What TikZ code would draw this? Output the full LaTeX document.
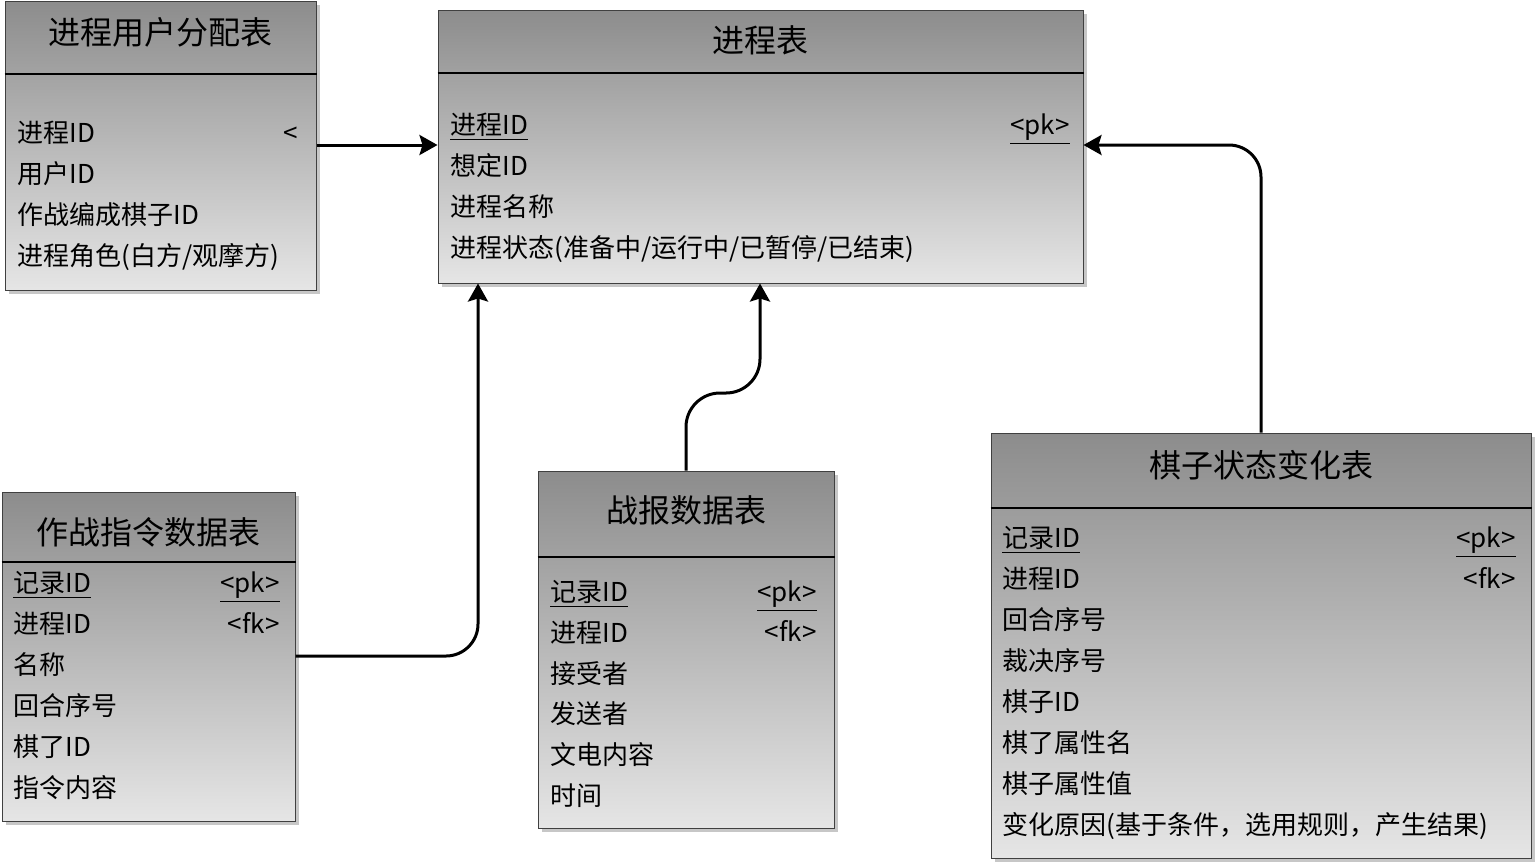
\documentclass[tikz,border=0pt]{standalone}
\usepackage{fontspec}
\setmainfont{Noto Sans CJK SC}
\usetikzlibrary{arrows.meta,fit,shadows}

\tikzset{
  tablebox/.style={draw=black!75, line width=0.5pt, top color=black!45, bottom color=black!10,
    inner sep=0pt, drop shadow={shadow xshift=2pt, shadow yshift=-2pt, fill=black!22, opacity=1}},
  headline/.style={line width=1.4pt},
  title/.style={font=\fontsize{16}{19}\selectfont, inner sep=0pt},
  field/.style={anchor=west, font=\fontsize{13}{15}\selectfont, inner sep=0pt, text height=11.5pt, text depth=2pt},
  key/.style={anchor=east, font=\fontsize{13}{15}\selectfont, inner sep=0pt, text height=11.5pt, text depth=2pt},
  link/.style={line width=1.5pt, -{Stealth[length=9pt,width=10pt,inset=1.5pt]}},
}

\begin{document}
\begin{tikzpicture}[x=0.5pt,y=-0.5pt]
	\useasboundingbox (0,0) rectangle (1536,864);
	% process user allocation table
	\node[tablebox, fit={(5,1) (316,290)}] (alloc) {};
	\draw[headline] (alloc.west |- 0,74) -- (alloc.east |- 0,74);
	\node[title] (alloc-title) at (alloc.north |- 0,32) {进程用户分配表};
	\foreach \f [count=\i from 0] in {进程ID, 用户ID, 作战编成棋子ID, 进程角色(白方/观摩方)}
		\node[field] (alloc-\i) at (17,{133+41*\i}) {\f};
	\node[key] (alloc-key) at (298,133) {<};
	% process table
	\node[tablebox, fit={(438,10) (1083,283)}] (proc) {};
	\draw[headline] (proc.west |- 0,73) -- (proc.east |- 0,73);
	\node[title] (proc-title) at (proc.north |- 0,40) {进程表};
	\foreach \f [count=\i from 0] in {\underline{进程ID}, 想定ID, 进程名称, 进程状态(准备中/运行中/已暂停/已结束)}
		\node[field] (proc-\i) at (450,{125+41*\i}) {\f};
	\node[key] (proc-pk) at (1070,125) {\underline{<pk>}};
	% command data table
	\node[tablebox, fit={(2,492) (295,821)}] (cmd) {};
	\draw[headline] (cmd.west |- 0,562) -- (cmd.east |- 0,562);
	\node[title] (cmd-title) at (cmd.north |- 0,532) {作战指令数据表};
	\foreach \f [count=\i from 0] in {\underline{记录ID}, 进程ID, 名称, 回合序号, 棋了ID, 指令内容}
		\node[field] (cmd-\i) at (13,{583+41*\i}) {\f};
	\node[key] (cmd-pk) at (280,583) {\underline{<pk>}};
	\node[key] (cmd-fk) at (280,624) {<fk>};
	% battle report table
	\node[tablebox, fit={(538,471) (834,828)}] (report) {};
	\draw[headline] (report.west |- 0,557) -- (report.east |- 0,557);
	\node[title] (report-title) at (report.north |- 0,510) {战报数据表};
	\foreach \f [count=\i from 0] in {\underline{记录ID}, 进程ID, 接受者, 发送者, 文电内容, 时间}
		\node[field] (report-\i) at (550,{592+40.8*\i}) {\f};
	\node[key] (report-pk) at (817,592) {\underline{<pk>}};
	\node[key] (report-fk) at (817,632) {<fk>};
	% piece state change table
	\node[tablebox, fit={(991,433) (1531,858)}] (state) {};
	\draw[headline] (state.west |- 0,508) -- (state.east |- 0,508);
	\node[title] (state-title) at (state.north |- 0,465) {棋子状态变化表};
	\foreach \f [count=\i from 0] in {\underline{记录ID}, 进程ID, 回合序号, 裁决序号, 棋子ID, 棋了属性名, 棋子属性值, 变化原因(基于条件，选用规则，产生结果)}
		\node[field] (state-\i) at (1002,{538+41*\i}) {\f};
	\node[key] (state-pk) at (1516,538) {\underline{<pk>}};
	\node[key] (state-fk) at (1516,579) {<fk>};
	% links
	\draw[link] (alloc.east |- 0,145) -- (proc.west |- 0,145);
	\draw[link, rounded corners=16pt] (cmd.east |- 0,656) -| (proc.south -| 478,0);
	\draw[link, rounded corners=17pt] (report.north) |- (760,393) -- (proc.south -| 760,0);
	\draw[link, rounded corners=16pt] (state.north) |- (proc.east |- 0,145);
\end{tikzpicture}
\end{document}
